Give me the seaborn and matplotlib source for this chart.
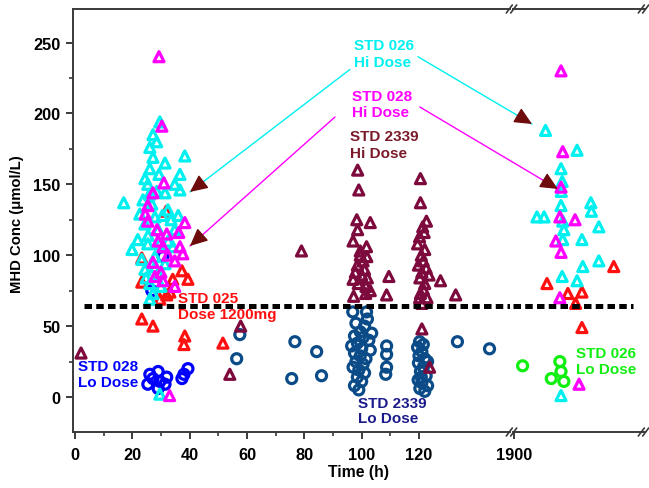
import numpy as np
import pandas as pd
import matplotlib
matplotlib.use("Agg")
import matplotlib.pyplot as plt
from matplotlib import font_manager
from matplotlib.lines import Line2D
import seaborn as sns

# ---------------- data ----------------
# STD 026 Hi Dose (cyan triangles)
std026_hi_t = [29.6, 27.2, 17.0, 26.1, 27.2, 38.3, 31.4, 26.1, 36.6, 29.3, 24.4, 25.4, 34.8, 31.4, 36.6,
               23.7, 26.8, 32.4, 22.6, 27.9, 24.4, 29.0, 34.8, 21.9, 25.4, 29.6, 34.1, 19.9, 23.3, 27.9,
               31.4, 24.4, 29.0, 26.1, 27.2, 26.1, 29.6, 28.5, 30.5, 33.5, 25.5, 28.0, 30.0, 24.8, 28.5,
               26.0, 32.5, 36.0,
               1911.0, 1922.0, 1916.4, 1916.8, 1926.8, 1927.0, 1908.0, 1910.5, 1916.4, 1929.6, 1917.4,
               1917.0, 1923.7, 1929.6, 1924.0, 1916.8, 1922.0, 1916.4, 1916.5, 1917.0]
std026_hi_c = [194, 185, 137, 176, 169, 170, 165, 161, 157, 157, 154, 150, 150, 144, 146,
               139, 136, 132, 129, 127, 122, 118, 118, 111, 108, 108, 106, 104, 97, 99,
               94, 90, 87, 80, 73, 69, 2, 145, 128, 125, 114, 92, 78, 84, 180,
               143, 110, 128,
               188, 174, 161, 152, 137, 131, 127, 127, 135, 120, 118,
               111, 111, 96, 92, 85, 82, 1, 145, 124]

# STD 028 Hi Dose (magenta triangles)
std028_hi_t = [29.3, 30.3, 31.0, 27.2, 25.4, 25.4, 38.3, 28.6, 36.2, 32.0, 29.0, 36.6, 30.7, 37.6,
               32.4, 27.2, 34.8, 27.9, 30.7, 34.8, 33.0, 24.5, 30.0,
               1916.4, 1917.0, 1916.4, 1916.0, 1921.3, 1914.6, 1916.4, 1916.0, 1922.7]
std028_hi_c = [240, 191, 151, 144, 135, 124, 123, 118, 116, 115, 110, 106, 106, 101,
               100, 95, 96, 85, 82, 78, 1, 129, 88,
               230, 173, 148, 127, 125, 110, 102, 70, 9]

# STD 025 Dose 1200mg (red triangles)
std025_t = [23.3, 23.3, 37.3, 39.4, 33.1, 34.1, 23.3, 27.2, 38.3, 38.0, 51.6, 29.6, 32.0, 31.8,
            1934.8, 1911.5, 1918.8, 1923.7, 1923.7, 1921.5]
std025_c = [98, 81, 89, 83, 74, 83, 55, 50, 43, 37, 38, 69, 72, 131,
            92, 80, 73, 74, 49, 66]

# STD 2339 Hi Dose (maroon triangles)
std2339_hi_t = [2.1, 54.0, 57.8, 79.0,
                98.6, 99.0, 98.3, 103.0, 98.6, 97.0, 101.7, 99.5, 100.5, 98.5, 101.0, 97.8, 100.0,
                102.0, 98.8, 101.5, 97.0, 109.5, 108.7, 97.2, 101.4, 103.0, 99.5, 101.8,
                120.5, 120.5, 122.6, 121.3, 120.2, 122.0, 120.8, 121.5, 119.8, 122.5, 121.0, 123.5,
                120.3, 122.0, 121.5, 120.5, 122.8, 127.5, 120.2, 132.8, 121.0, 121.0, 123.7, 119.5, 121.8]
std2339_hi_c = [31, 16, 50, 103,
                160, 146, 125, 123, 118, 110, 106, 100, 96, 93, 90, 88, 86,
                84, 80, 78, 83, 85, 72, 71, 73, 75, 103, 99,
                154, 137, 124, 120, 113, 104, 100, 96, 93, 91, 88, 86,
                84, 80, 76, 73, 70, 82, 70, 72, 66, 48, 21, 108, 116]

# STD 028 Lo Dose (blue circles)
std028_lo_t = [26.1, 29.0, 25.4, 29.6, 32.0, 31.4, 29.0, 37.3, 38.0, 39.4, 27.2, 30.7, 26.8]
std028_lo_c = [16, 18, 9, 11, 14, 9, 6, 13, 16, 20, 13, 99, 75]

# STD 2339 Lo Dose (dark blue circles)
std2339_lo_t = [57.5, 56.4, 76.7, 75.6, 84.3, 86.0,
                96.9, 101.7, 98.0, 101.0, 99.5, 97.5, 100.5, 102.5, 98.5, 96.5, 100.0, 103.0, 97.5,
                99.5, 101.5, 98.0, 100.5, 97.0, 99.0, 101.0, 98.5, 100.0, 97.5, 99.0, 103.5, 102.0,
                108.7, 108.7, 108.7, 108.4,
                120.2, 119.5, 121.0, 120.0, 122.0, 119.8, 121.5, 120.5, 122.5, 119.7, 121.0, 123.0,
                120.3, 122.0, 120.8, 123.0, 121.5,
                133.4, 144.6]
std2339_lo_c = [44, 27, 39, 13, 32, 15,
                60, 60, 52, 50, 46, 43, 42, 40, 38, 36, 34, 33, 31,
                29, 27, 25, 23, 21, 19, 17, 14, 11, 8, 5, 45, 55,
                36, 30, 21, 16,
                39, 35, 32, 29, 27, 24, 21, 18, 15, 12, 10, 8,
                6, 4, 14, 25, 37,
                39, 34]

# STD 026 Lo Dose (green circles)
std026_lo_t = [1903.0, 1916.0, 1916.4, 1913.0, 1917.4]
std026_lo_c = [22, 25, 18, 13, 11]

threshold = 64
x_ticks = [0, 20, 40, 60, 80, 100, 120]
x_minor = [10, 30, 50, 70, 90, 110]
late_ticks = [1900]
y_ticks = [0, 50, 100, 150, 200, 250]
y_minor = [25, 75, 125, 175, 225]

# ---------------- style ----------------
sns.set_theme(style="white")
names = {f.name for f in font_manager.fontManager.ttflist}
narrow = "Liberation Sans Narrow" if "Liberation Sans Narrow" in names else "Liberation Sans"
plt.rcParams["font.family"] = [narrow, "DejaVu Sans"]
FS = 12.5 if narrow == "Liberation Sans Narrow" else 11
FT = FS + 0.8  # tick labels

CYAN = "#00f0f0"
MAGENTA = "#ff00ff"
RED = "#ff1010"
MAROON = "#7d0a3c"
BLUE = "#0000ff"
DKBLUE = "#0b4c88"
GREEN = "#11ee11"
HEAD = "#6e0c0c"
AX = "#3a3a3a"

W, H = 649, 489
fig = plt.figure(figsize=(W / 100, H / 100), dpi=100)
fig.patch.set_facecolor("white")

ax_left, ax_right, ax_top, ax_bot = 73, 510, 10, 433
r_left, r_right = 513, 645
ppx = (419 - 75) / 120.0  # px per hour
bottom = 1 - ax_bot / H
height = (ax_bot - ax_top) / H
ax1 = fig.add_axes([ax_left / W, bottom, (ax_right - ax_left) / W, height])
ax2 = fig.add_axes([r_left / W, bottom, (r_right - r_left) / W, height])
ax1.set_xlim(-(75 - ax_left) / ppx, (ax_right - 75) / ppx)
ax2.set_xlim(1900 - (514 - r_left) / ppx, 1900 + (r_right - 514) / ppx)
ypp = (398 - 43.5) / 250.0
for ax in (ax1, ax2):
    ax.set_ylim(-(ax_bot - 398) / ypp, (398 - ax_top) / ypp)
    ax.set_facecolor("white")


def draw(t, c, color, marker, size):
    df = pd.DataFrame({"t": t, "c": c})
    early = df[df.t < 1000]
    late = df[df.t >= 1000]
    for ax, d in ((ax1, early), (ax2, late)):
        if len(d):
            sns.scatterplot(data=d, x="t", y="c", ax=ax, color=color, marker=marker,
                            facecolor="none", edgecolor=color, linewidth=2.3, s=size,
                            legend=False, clip_on=False, zorder=3)


draw(std2339_lo_t, std2339_lo_c, DKBLUE, "o", 52)
draw(std028_lo_t, std028_lo_c, BLUE, "o", 52)
draw(std026_lo_t, std026_lo_c, GREEN, "o", 52)
draw(std2339_hi_t, std2339_hi_c, MAROON, "^", 52)
draw(std025_t, std025_c, RED, "^", 52)
draw(std026_hi_t, std026_hi_c, CYAN, "^", 52)
draw(std028_hi_t, std028_hi_c, MAGENTA, "^", 52)

# threshold dashed line
dash = dict(color="black", lw=3.6, dashes=(1.5, 0.85), zorder=4)
ax1.axhline(threshold, xmin=(84 - ax_left) / (ax_right - ax_left), xmax=1, **dash)
ax2.axhline(threshold, xmin=0, xmax=(633 - r_left) / (r_right - r_left), **dash)

# axes styling
for ax in (ax1, ax2):
    ax.set_xlabel("")
    ax.set_ylabel("")
    ax.spines["right"].set_visible(False)
    for s in ("top", "bottom", "left"):
        ax.spines[s].set_color(AX)
        ax.spines[s].set_linewidth(1.4)
ax2.spines["left"].set_visible(False)

ax1.set_xticks(x_ticks)
ax1.set_xticks(x_minor, minor=True)
ax1.set_yticks(y_ticks)
ax1.set_yticks(y_minor, minor=True)
ax1.tick_params(axis="both", which="major", direction="out", length=5, width=1.4, color=AX,
                bottom=True, left=True, labelsize=FT, labelcolor="black")
ax1.tick_params(axis="both", which="minor", direction="out", length=3, width=1.2, color=AX,
                bottom=True, left=True)
ax1.tick_params(axis="y", pad=4)
ax1.tick_params(axis="x", pad=6)
ax2.set_xticks(late_ticks)
ax2.set_yticks([])
ax2.tick_params(axis="x", which="major", direction="out", length=5, width=1.4, color=AX,
                bottom=True, labelsize=FT, pad=6, labelcolor="black")
for ax in (ax1, ax2):
    for lab in ax.get_xticklabels() + ax.get_yticklabels():
        lab.set_fontweight("bold")

fig.text(358 / W, 1 - 472 / H, "Time (h)", ha="center", va="center",
         fontsize=FS + 0.3, fontweight="bold", color="black")
fig.text(17 / W, 1 - 224 / H, "MHD Conc (\u03bcmol/L)", ha="center", va="center",
         rotation=90, fontsize=FS - 0.3, fontweight="bold", color="black")

# axis break marks
def brk(px, py):
    for off in (-2.2, 2.2):
        fig.add_artist(Line2D([(px + off - 3) / W, (px + off + 3) / W],
                              [1 - (py + 4) / H, 1 - (py - 4) / H],
                              color=AX, lw=1.2, transform=fig.transFigure))

for py in (ax_top, ax_bot):
    for px in (511.5, 643.5):
        brk(px, py)

# annotations (labels)
def lab(ax, x, y, s, color, ls=1.25):
    ax.text(x, y, s, color=color, fontsize=FS, fontweight="bold", ha="left", va="top",
            linespacing=ls, zorder=6)

lab(ax1, 97.3, 253, "STD 026\nHi Dose", CYAN)
lab(ax1, 96.6, 217.5, "STD 028\nHi Dose", MAGENTA)
lab(ax1, 95.9, 189, "STD 2339\nHi Dose", "#7a1a2a")
lab(ax1, 35.9, 75, "STD 025\nDose 1200mg", RED)
lab(ax1, 1.0, 26.5, "STD 028\nLo Dose", BLUE, 1.12)
lab(ax1, 98.7, 0.7, "STD 2339\nLo Dose", "#1a1a8a", 1.12)
lab(ax2, 1921.6, 36, "STD 026\nLo Dose", GREEN, 1.15)

# arrows: thin colored line + maroon head
def arrow(ax_tip, tip, start, color, dirpx):
    ax_tip.annotate("", xy=tip, xycoords="data", xytext=start, textcoords=ax1.transData,
                    arrowprops=dict(arrowstyle="-", color=color, lw=1.0, shrinkA=0, shrinkB=0),
                    annotation_clip=False, zorder=5)
    dx, dy = dirpx
    n = np.hypot(dx, dy)
    L = 17 * 0.72
    ax_tip.annotate("", xy=tip, xycoords="data", xytext=(-dx / n * L, dy / n * L),
                    textcoords="offset points",
                    arrowprops=dict(arrowstyle="-|>,head_length=0.9,head_width=0.42",
                                    color=HEAD, lw=1.0, shrinkA=0, shrinkB=0),
                    annotation_clip=False, zorder=5)

arrow(ax1, (40.1, 144.6), (95.9, 231), CYAN, (-160, 122))
arrow(ax2, (1906.3, 192.5), (119.6, 240), CYAN, (113, 67))
arrow(ax1, (40.1, 106.5), (90.7, 197.5), MAGENTA, (-145, 129))
arrow(ax2, (1915.3, 146.7), (120.3, 204.5), MAGENTA, (137, 82))

fig.savefig("out.png", dpi=100, facecolor="white")
